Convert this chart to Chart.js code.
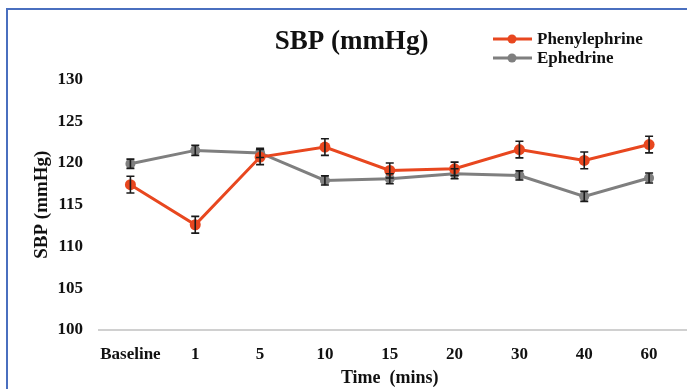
<!DOCTYPE html>
<html>
<head>
<meta charset="utf-8">
<script src="https://cdn.jsdelivr.net/npm/chart.js@4.4.1/dist/chart.umd.min.js"></script>
<style>
  html, body { margin: 0; padding: 0; background: #fff; }
  #wrap { position: relative; width: 687px; height: 389px; }
  #frame { position: absolute; left: 6px; top: 8px; right: -4px; bottom: -4px;
           border-left: 2px solid #4a6fbf; border-top: 2px solid #4a6fbf; }
  canvas { position: absolute; left: 0; top: 0; }
</style>
</head>
<body>
<div id="wrap">
  <div id="frame"></div>
  <canvas id="sbpChart" width="687" height="389"></canvas>
</div>
<script>
// dados
const timePoints = ["Baseline", "1", "5", "10", "15", "20", "30", "40", "60"];
const phenylephrine = [117.4, 112.6, 120.7, 121.9, 119.1, 119.3, 121.6, 120.3, 122.2];
const phenylephrineErr = [1.0, 1.0, 0.9, 1.0, 0.9, 0.8, 1.0, 1.0, 1.0];
const ephedrine = [119.9, 121.5, 121.2, 117.9, 118.1, 118.7, 118.5, 116.0, 118.2];
const ephedrineErr = [0.55, 0.6, 0.55, 0.55, 0.6, 0.6, 0.55, 0.6, 0.6];
const yTicks = [100, 105, 110, 115, 120, 125, 130];

const orange = "#e8471f";
const grey = "#7f7f7f";
const serif = "'Liberation Serif', 'Times New Roman', serif";

// barras de erro desenhadas sobre as linhas
const errorBars = {
    id: "errorBars",
    afterDatasetsDraw(chart) {
        const ctx = chart.ctx;
        const y = chart.scales.y;
        ctx.save();
        ctx.strokeStyle = "#1a1a1a";
        ctx.lineWidth = 1.6;
        chart.data.datasets.forEach((ds, i) => {
            const meta = chart.getDatasetMeta(i);
            meta.data.forEach((pt, j) => {
                const e = ds.errors[j];
                const top = y.getPixelForValue(ds.data[j] + e);
                const bot = y.getPixelForValue(ds.data[j] - e);
                ctx.beginPath();
                ctx.moveTo(pt.x, top); ctx.lineTo(pt.x, bot);
                ctx.moveTo(pt.x - 4, top); ctx.lineTo(pt.x + 4, top);
                ctx.moveTo(pt.x - 4, bot); ctx.lineTo(pt.x + 4, bot);
                ctx.stroke();
            });
        });
        ctx.restore();
    }
};

// linha do eixo x até a borda direita
const baseLine = {
    id: "baseLine",
    beforeDatasetsDraw(chart) {
        const ctx = chart.ctx;
        const yPix = chart.scales.y.getPixelForValue(100);
        ctx.save();
        ctx.strokeStyle = "#d0d0d0";
        ctx.lineWidth = 2;
        ctx.beginPath();
        ctx.moveTo(chart.chartArea.left, yPix);
        ctx.lineTo(chart.width, yPix);
        ctx.stroke();
        ctx.restore();
    }
};

// legenda ao lado do título
const sideLegend = {
    id: "sideLegend",
    afterDraw(chart) {
        const ctx = chart.ctx;
        ctx.save();
        ctx.font = "bold 17px " + serif;
        ctx.textBaseline = "middle";
        chart.data.datasets.forEach((ds, i) => {
            const yy = 39 + i * 19;
            ctx.strokeStyle = ds.borderColor;
            ctx.lineWidth = 3;
            ctx.beginPath();
            ctx.moveTo(493, yy); ctx.lineTo(532, yy);
            ctx.stroke();
            ctx.fillStyle = ds.borderColor;
            ctx.beginPath();
            ctx.arc(512, yy, 4.5, 0, Math.PI * 2);
            ctx.fill();
            ctx.fillStyle = "#111";
            ctx.fillText(ds.label, 537, yy + 1);
        });
        ctx.restore();
    }
};

const ctx = document.getElementById("sbpChart").getContext("2d");
const sbpChart = new Chart(ctx, {
    type: "line",
    data: {
        labels: timePoints,
        datasets: [
            {
                label: "Phenylephrine",
                data: phenylephrine,
                errors: phenylephrineErr,
                borderColor: orange,
                backgroundColor: orange,
                borderWidth: 3,
                pointRadius: 5.5,
                pointBorderWidth: 0,
                tension: 0,
            },
            {
                label: "Ephedrine",
                data: ephedrine,
                errors: ephedrineErr,
                borderColor: grey,
                backgroundColor: grey,
                borderWidth: 3,
                pointRadius: 5,
                pointBorderWidth: 0,
                tension: 0,
            },
        ],
    },
    options: {
        responsive: false,
        animation: false,
        layout: { padding: { left: 18, right: 2, top: 0, bottom: 0 } },
        plugins: {
            legend: { display: false },
            tooltip: { enabled: false },
            title: {
                display: true,
                text: "SBP (mmHg)",
                color: "#111",
                font: { family: serif, size: 27, weight: "bold" },
                padding: { top: 26, bottom: 21 },
            },
        },
        scales: {
            x: {
                offset: true,
                grid: { display: false },
                border: { display: false },
                ticks: {
                    color: "#111",
                    font: { family: serif, size: 17, weight: "bold" },
                    padding: 6,
                    maxRotation: 0,
                    autoSkip: false,
                },
                title: {
                    display: true,
                    text: "Time  (mins)",
                    color: "#111",
                    font: { family: serif, size: 18, weight: "bold" },
                    padding: { top: 0, bottom: 0 },
                },
                afterFit(scale) { scale.height = 59; },
            },
            y: {
                min: 100,
                max: 130,
                afterBuildTicks(scale) { scale.ticks = yTicks.map((v) => ({ value: v })); },
                grid: { display: false },
                border: { display: false },
                ticks: {
                    color: "#111",
                    font: { family: serif, size: 17, weight: "bold" },
                    padding: 7,
                },
                title: {
                    display: true,
                    text: "SBP (mmHg)",
                    color: "#111",
                    font: { family: serif, size: 19, weight: "bold" },
                    padding: { top: 13, bottom: 0 },
                },
                afterFit(scale) { scale.width = 80; },
            },
        },
    },
    plugins: [baseLine, errorBars, sideLegend],
});
</script>
</body>
</html>
